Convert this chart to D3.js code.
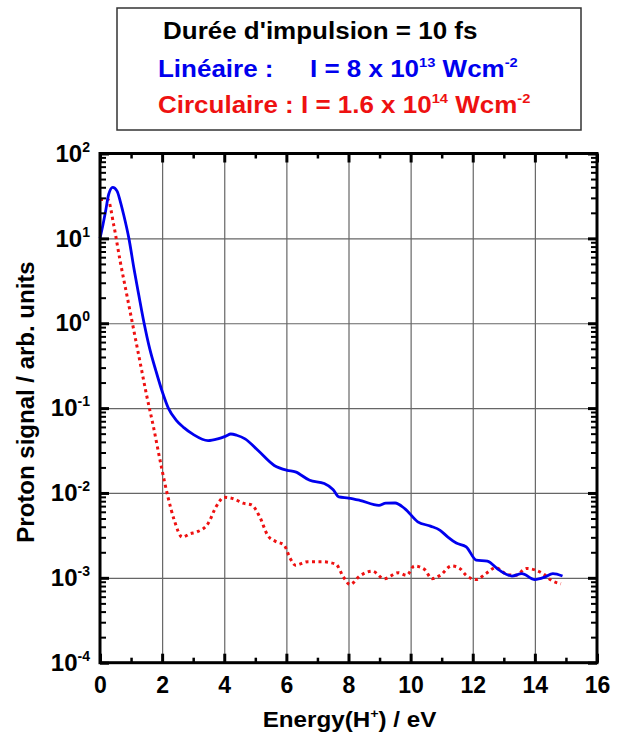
<!DOCTYPE html>
<html>
<head>
<meta charset="utf-8">
<script src="https://cdn.jsdelivr.net/npm/d3@7"></script>
<style>
  body { margin: 0; background: #fff; }
  svg { display: block; }
  text { font-family: "Liberation Sans", Arial, sans-serif; font-weight: bold; }
</style>
</head>
<body>
<svg id="chart" width="626" height="738"></svg>
<script>
// ---------- data ----------
const linEnergy = [0, 0.1, 0.18, 0.28, 0.41, 0.55, 0.65, 0.76, 0.93, 1.1, 1.25, 1.42, 1.6, 1.8, 2.0, 2.2, 2.45, 2.7, 3.0, 3.48, 3.79, 4.05, 4.21, 4.4, 4.67, 5.09, 5.61, 6.02, 6.29, 6.75, 7.22, 7.5, 7.69, 8.0, 8.36, 8.98, 9.2, 9.5, 9.81, 10.23, 10.64, 10.95, 11.2, 11.47, 11.79, 12.11, 12.47, 12.84, 13.26, 13.58, 14.0, 14.32, 14.58, 14.89];
const linSignal = [10, 14.8, 20.9, 33.1, 39.8, 36.0, 27.5, 19.1, 10.0, 4.27, 2.14, 1.0, 0.501, 0.275, 0.158, 0.1, 0.0724, 0.0589, 0.049, 0.0414, 0.0434, 0.0468, 0.0495, 0.0479, 0.0434, 0.0316, 0.0211, 0.0185, 0.0177, 0.0141, 0.0129, 0.011, 0.00897, 0.00871, 0.0082, 0.00716, 0.00759, 0.00762, 0.00655, 0.00457, 0.00407, 0.00363, 0.00302, 0.00257, 0.00232, 0.00162, 0.00157, 0.00124, 0.00105, 0.00112, 0.000955, 0.00102, 0.00112, 0.00105];

const circEnergy = [0, 0.25, 0.44, 0.65, 0.86, 1.07, 1.28, 1.49, 1.72, 1.98, 2.19, 2.39, 2.65, 2.9, 3.12, 3.48, 3.74, 4.0, 4.31, 4.6, 4.88, 5.14, 5.4, 5.65, 5.92, 6.12, 6.29, 6.7, 7.12, 7.59, 7.84, 8.05, 8.36, 8.77, 9.14, 9.61, 9.87, 10.12, 10.44, 10.69, 10.95, 11.32, 11.58, 11.79, 12.11, 12.42, 12.74, 13.1, 13.37, 13.74, 14.0, 14.26, 14.53, 14.84];
const circSignal = [28.8, 28.8, 14.5, 5.37, 2.19, 0.891, 0.363, 0.148, 0.0603, 0.02, 0.00891, 0.00479, 0.00302, 0.00331, 0.00347, 0.00437, 0.00692, 0.00891, 0.00851, 0.00759, 0.00724, 0.00525, 0.00316, 0.00269, 0.00245, 0.0017, 0.00141, 0.00155, 0.00155, 0.00145, 0.00102, 0.000832, 0.00105, 0.0012, 0.000977, 0.00115, 0.00107, 0.00138, 0.00126, 0.000977, 0.00107, 0.00138, 0.00129, 0.00107, 0.000955, 0.00112, 0.00132, 0.0011, 0.00107, 0.00129, 0.00124, 0.00112, 0.000933, 0.000851];

const xTicks = [0, 2, 4, 6, 8, 10, 12, 14, 16];
const xMinorTicks = [1, 3, 5, 7, 9, 11, 13, 15];
const yTicks = [1e-4, 1e-3, 1e-2, 1e-1, 1e0, 1e1, 1e2];
const yTickExponents = ["-4", "-3", "-2", "-1", "0", "1", "2"];
const xGrid = [2, 4, 6, 8, 10, 12, 14];
const yGrid = [1e-3, 1e-2, 1e-1, 1e0, 1e1];

// ---------- layout ----------
const svg = d3.select("#chart");
const L = 100, R = 597, T = 153.5, B = 662.7;
const x = d3.scaleLinear().domain([0, 16]).range([L, R]);
const y = d3.scaleLog().domain([1e-4, 1e2]).range([B, T]);
const FONT = "Liberation Sans, Arial, sans-serif";
const BLUE = "#0000ee", RED = "#ee1111";

const yMinor = [];
yTicks.slice(0, -1).forEach(d => { for (let k = 2; k <= 9; k++) yMinor.push(d * k); });

// grid
svg.append("g").attr("transform", `translate(0,${B})`)
  .call(d3.axisBottom(x).tickValues(xGrid).tickSize(-(B - T)).tickFormat(""))
  .call(g => g.select(".domain").remove())
  .call(g => g.selectAll("line").attr("stroke", "#666").attr("stroke-width", 1.2));
svg.append("g").attr("transform", `translate(${L},0)`)
  .call(d3.axisLeft(y).tickValues(yGrid).tickSize(-(R - L)).tickFormat(""))
  .call(g => g.select(".domain").remove())
  .call(g => g.selectAll("line").attr("stroke", "#666").attr("stroke-width", 1.2));

// curves
const line = (xs, ys) => d3.line().curve(d3.curveMonotoneX)
  .x((d, i) => x(xs[i])).y((d, i) => y(ys[i]))(xs);
svg.append("path").attr("d", line(circEnergy, circSignal))
  .attr("fill", "none").attr("stroke", RED).attr("stroke-width", 3)
  .attr("stroke-dasharray", "3,3.5");
svg.append("path").attr("d", line(linEnergy, linSignal))
  .attr("fill", "none").attr("stroke", BLUE).attr("stroke-width", 2.8)
  .attr("stroke-linejoin", "round");

// axes ticks
function styleTicks(g, w) {
  g.select(".domain").remove();
  g.selectAll("line").attr("stroke", "#000").attr("stroke-width", w);
}
// bottom
const xb = svg.append("g").attr("transform", `translate(0,${B})`)
  .call(d3.axisBottom(x).tickValues(xTicks).tickSize(-9).tickPadding(14).tickFormat(d3.format("d")))
  .call(g => styleTicks(g, 3));
xb.selectAll("text").attr("font-family", FONT).attr("font-weight", "bold")
  .attr("font-size", 23).attr("fill", "#000");
svg.append("g").attr("transform", `translate(0,${B})`)
  .call(d3.axisBottom(x).tickValues(xMinorTicks).tickSize(-5).tickFormat(""))
  .call(g => styleTicks(g, 2.5));
// top
svg.append("g").attr("transform", `translate(0,${T})`)
  .call(d3.axisTop(x).tickValues(xTicks).tickSize(-9).tickFormat(""))
  .call(g => styleTicks(g, 3));
svg.append("g").attr("transform", `translate(0,${T})`)
  .call(d3.axisTop(x).tickValues(xMinorTicks).tickSize(-5).tickFormat(""))
  .call(g => styleTicks(g, 2.5));
// left
const yl = svg.append("g").attr("transform", `translate(${L},0)`)
  .call(d3.axisLeft(y).tickValues(yTicks).tickSize(-9).tickPadding(10).tickFormat(() => ""))
  .call(g => styleTicks(g, 3));
yl.selectAll(".tick text").each(function (d, i) {
  const t = d3.select(this).attr("font-family", FONT).attr("font-weight", "bold")
    .attr("font-size", 24).attr("fill", "#000").text(null);
  t.append("tspan").text("10");
  t.append("tspan").attr("font-size", 14).attr("dy", -10).text(yTickExponents[i]);
});
svg.append("g").attr("transform", `translate(${L},0)`)
  .call(d3.axisLeft(y).tickValues(yMinor).tickSize(-6).tickFormat(""))
  .call(g => styleTicks(g, 2));
// right
svg.append("g").attr("transform", `translate(${R},0)`)
  .call(d3.axisRight(y).tickValues(yTicks).tickSize(-9).tickFormat(""))
  .call(g => styleTicks(g, 3));
svg.append("g").attr("transform", `translate(${R},0)`)
  .call(d3.axisRight(y).tickValues(yMinor).tickSize(-6).tickFormat(""))
  .call(g => styleTicks(g, 2));

// frame
svg.append("rect").attr("x", L).attr("y", T).attr("width", R - L).attr("height", B - T)
  .attr("fill", "none").attr("stroke", "#000").attr("stroke-width", 3);

// axis titles
const xt = svg.append("text").attr("transform", `translate(${(L + R) / 2 + 1},727) scale(1.1,1)`)
  .attr("text-anchor", "middle").attr("font-size", 22).attr("fill", "#000");
xt.append("tspan").text("Energy(H");
xt.append("tspan").attr("font-size", 13).attr("dy", -9).text("+");
xt.append("tspan").attr("dy", 9).text(") / eV");

svg.append("text").attr("transform", "translate(34,402) rotate(-90)")
  .attr("text-anchor", "middle").attr("font-size", 24).attr("fill", "#000")
  .text("Proton signal / arb. units");

// legend box
svg.append("rect").attr("x", 117).attr("y", 8).attr("width", 464).attr("height", 122)
  .attr("fill", "#fff").attr("stroke", "#333").attr("stroke-width", 1.5);

const SX = 1.13, LF = 23, SUP = 13;
function legendText(tx, ty, color, parts) {
  const t = svg.append("text").attr("transform", `translate(${tx},${ty}) scale(${SX},1)`)
    .attr("font-size", LF).attr("fill", color);
  let up = false;
  parts.forEach(p => {
    const s = t.append("tspan").text(p.t);
    if (p.sup && !up) { s.attr("font-size", SUP).attr("dy", -10); up = true; }
    else if (p.sup) { s.attr("font-size", SUP); }
    else if (up) { s.attr("dy", 10); up = false; }
  });
}
legendText(163, 39, "#000", [{ t: "Durée d'impulsion = 10 fs" }]);
legendText(158, 77, BLUE, [{ t: "Linéaire :" }]);
legendText(310, 77, BLUE, [{ t: "I = 8 x 10" }, { t: "13", sup: true }, { t: " Wcm" }, { t: "-2", sup: true }]);
legendText(158, 113, RED, [{ t: "Circulaire : I = 1.6 x 10" }, { t: "14", sup: true }, { t: " Wcm" }, { t: "-2", sup: true }]);
</script>
</body>
</html>
